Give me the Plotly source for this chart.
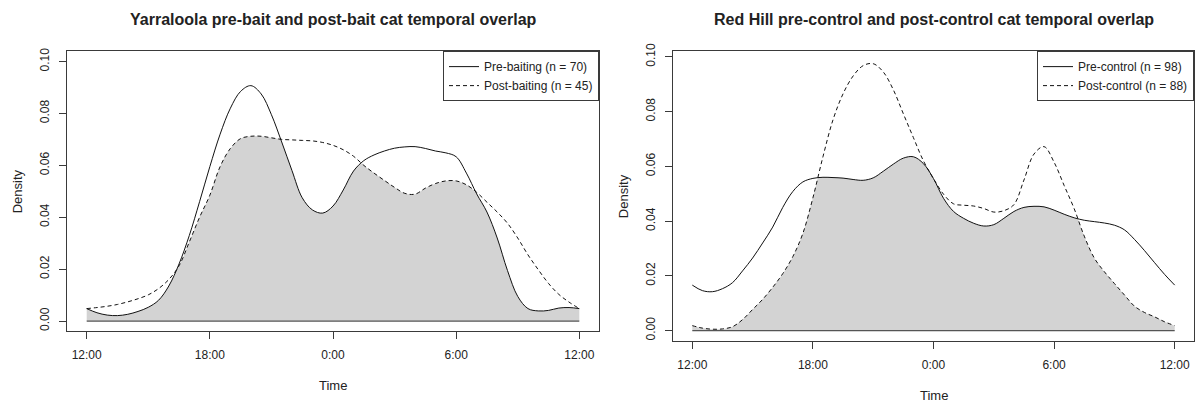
import plotly.graph_objects as go

# ---- data (hours relative to midnight, half-hour steps; kernel density values) ----
hours = [h / 2 for h in range(-24, 25)]
tick_vals = [-12, -6, 0, 6, 12]
tick_text = ["12:00", "18:00", "0:00", "6:00", "12:00"]

yarra_pre = [4.8, 3.2, 2.3, 2.1, 2.6, 3.7, 5.3, 8.0, 13.5, 22.0, 33.0, 46.0, 59.5, 72.0,
             82.0, 88.5, 90.7, 87.5, 79.5, 69.0, 58.0, 47.5, 42.8, 41.6, 44.3, 50.5, 57.8,
             61.8, 64.0, 65.5, 66.6, 67.1, 67.2, 66.5, 65.5, 64.8, 63.3, 57.0, 49.0, 42.0,
             32.0, 19.5, 9.5, 4.8, 3.9, 4.1, 5.0, 5.2, 4.8]
yarra_post = [4.8, 5.2, 5.7, 6.4, 7.4, 8.6, 10.1, 12.5, 16.0, 21.3, 30.5, 40.0, 48.5, 59.5,
              66.5, 70.3, 71.2, 71.2, 70.6, 70.0, 69.8, 69.6, 69.4, 68.8, 67.7, 66.0, 63.5,
              60.0, 57.0, 54.2, 51.5, 49.2, 48.9, 51.2, 53.0, 54.0, 54.0, 52.5, 49.6, 45.8,
              42.0, 37.7, 32.0, 25.5, 19.8, 14.5, 10.3, 7.3, 4.8]
redhill_pre = [16.6, 14.6, 14.2, 15.3, 17.5, 21.8, 26.5, 32.0, 37.8, 45.0, 50.8, 54.3, 55.6,
               56.0, 55.9, 55.7, 55.2, 54.9, 55.8, 58.2, 60.8, 63.0, 63.5, 61.0, 55.5, 48.3,
               43.5, 41.0, 39.2, 38.2, 38.7, 41.0, 43.5, 45.0, 45.4, 45.2, 44.0, 42.5, 41.2,
               40.3, 39.8, 39.3, 38.5, 36.8, 33.3, 29.2, 24.8, 20.5, 16.6]
redhill_post = [1.8, 0.9, 0.5, 0.6, 1.4, 4.0, 7.7, 11.4, 15.8, 20.8, 27.0, 35.5, 48.5, 63.5,
                77.0, 86.5, 93.0, 96.8, 97.5, 94.5, 88.0, 79.2, 70.5, 62.0, 55.5, 49.8, 46.3,
                45.8, 45.5, 44.6, 43.3, 43.8, 46.0, 55.0, 64.5, 67.2, 61.5, 53.0, 44.5, 34.5,
                26.5, 21.5, 17.2, 13.0, 8.9, 6.6, 5.0, 3.2, 1.8]
density_unit = 0.001  # values above are in thousandths

titles = ["Yarraloola pre-bait and post-bait cat temporal overlap",
          "Red Hill pre-control and post-control cat temporal overlap"]
legend_names = [("Pre-baiting (n = 70)", "Post-baiting (n = 45)"),
                ("Pre-control (n = 98)", "Post-control (n = 88)")]

W, H = 1197, 402
FONT = "Liberation Sans, Arial, sans-serif"
TXT = "#222222"
AX = "#3a3a3a"
FILL = "#d3d3d3"

# panel boxes in pixels: (left, right, top, bottom)
boxes = [(67, 599, 44, 330), (673, 1194, 44, 340)]
yranges = [[-0.004, 0.104], [-0.0039, 0.1021]]

fig = go.Figure()
spl = dict(shape="spline", smoothing=1.0)

panels = [(yarra_pre, yarra_post), (redhill_pre, redhill_post)]
for i, (pre_raw, post_raw) in enumerate(panels):
    pre = [v * density_unit for v in pre_raw]
    post = [v * density_unit for v in post_raw]
    xa = "x" if i == 0 else "x2"
    ya = "y" if i == 0 else "y2"
    lg = "legend" if i == 0 else "legend2"
    # overlap area = region under both curves: grey under post, white above pre
    fig.add_trace(go.Scatter(x=hours, y=post, mode="lines", fill="tozeroy", fillcolor=FILL,
                             line=dict(width=0, **spl), showlegend=False, hoverinfo="skip",
                             xaxis=xa, yaxis=ya))
    fig.add_trace(go.Scatter(x=hours, y=pre, mode="lines", line=dict(width=0, **spl),
                             showlegend=False, hoverinfo="skip", xaxis=xa, yaxis=ya))
    fig.add_trace(go.Scatter(x=[hours[-1], hours[0]], y=[0.5, 0.5], mode="lines",
                             fill="tonexty", fillcolor="white", line=dict(width=0),
                             showlegend=False, hoverinfo="skip", xaxis=xa, yaxis=ya))
    fig.add_trace(go.Scatter(x=[hours[0], hours[-1]], y=[0, 0], mode="lines",
                             line=dict(color="#555555", width=1.3), showlegend=False,
                             hoverinfo="skip", xaxis=xa, yaxis=ya))
    fig.add_trace(go.Scatter(x=hours, y=pre, mode="lines", name=legend_names[i][0],
                             line=dict(color="#111111", width=1, **spl),
                             xaxis=xa, yaxis=ya, legend=lg))
    fig.add_trace(go.Scatter(x=hours, y=post, mode="lines", name=legend_names[i][1],
                             line=dict(color="#111111", width=1, dash="4px,3px", **spl),
                             xaxis=xa, yaxis=ya, legend=lg))

def xdom(b):
    return [b[0] / W, b[1] / W]

def ydom(b):
    return [1 - b[3] / H, 1 - b[2] / H]

common_axis = dict(showline=True, mirror=True, linecolor=AX, linewidth=1, showgrid=False,
                   zeroline=False, ticks="outside", ticklen=7, tickcolor=AX, tickwidth=1,
                   tickfont=dict(family=FONT, size=12, color=TXT), layer="above traces")

layout_kw = {}
for i, b in enumerate(boxes):
    sx = "" if i == 0 else "2"
    layout_kw["xaxis" + sx] = dict(common_axis, domain=xdom(b), range=[-12.96, 12.96],
                                   tickvals=tick_vals, ticktext=tick_text,
                                   anchor="y" + sx, ticklabelstandoff=5)
    layout_kw["yaxis" + sx] = dict(common_axis, domain=ydom(b), range=yranges[i],
                                   tick0=0, dtick=0.02, tickformat=".2f", tickangle=-90,
                                   anchor="x" + sx, ticklabelstandoff=5)

legend_common = dict(bgcolor="white", bordercolor=AX, borderwidth=1, traceorder="normal",
                     font=dict(family=FONT, size=12, color=TXT), xanchor="right",
                     yanchor="top", tracegroupgap=0, itemwidth=30)
layout_kw["legend"] = dict(legend_common, x=boxes[0][1] / W, y=1 - boxes[0][2] / H)
layout_kw["legend2"] = dict(legend_common, x=boxes[1][1] / W, y=1 - boxes[1][2] / H)

annotations = []
for i, b in enumerate(boxes):
    cx = (b[0] + b[1]) / 2 / W
    annotations.append(dict(text="<b>" + titles[i] + "</b>", x=cx, y=1 - 12 / H,
                            xref="paper", yref="paper", showarrow=False,
                            font=dict(family=FONT, size=16, color=TXT),
                            xanchor="center", yanchor="middle"))
    annotations.append(dict(text="Time", x=cx, y=1 - (b[3] + 55) / H, xref="paper",
                            yref="paper", showarrow=False,
                            font=dict(family=FONT, size=13, color=TXT),
                            xanchor="center", yanchor="middle"))
    annotations.append(dict(text="Density", x=(b[0] - 50) / W, y=1 - (b[2] + b[3]) / 2 / H,
                            xref="paper", yref="paper", showarrow=False, textangle=-90,
                            font=dict(family=FONT, size=13, color=TXT),
                            xanchor="center", yanchor="middle"))

fig.update_layout(width=W, height=H, margin=dict(l=0, r=0, t=0, b=0),
                  paper_bgcolor="white", plot_bgcolor="white", hovermode=False,
                  annotations=annotations, **layout_kw)

fig.write_html("out.html", config={"displayModeBar": False},
               post_script="document.body.style.margin='0';document.body.style.padding='0';"
                           "document.body.style.overflow='hidden';")
